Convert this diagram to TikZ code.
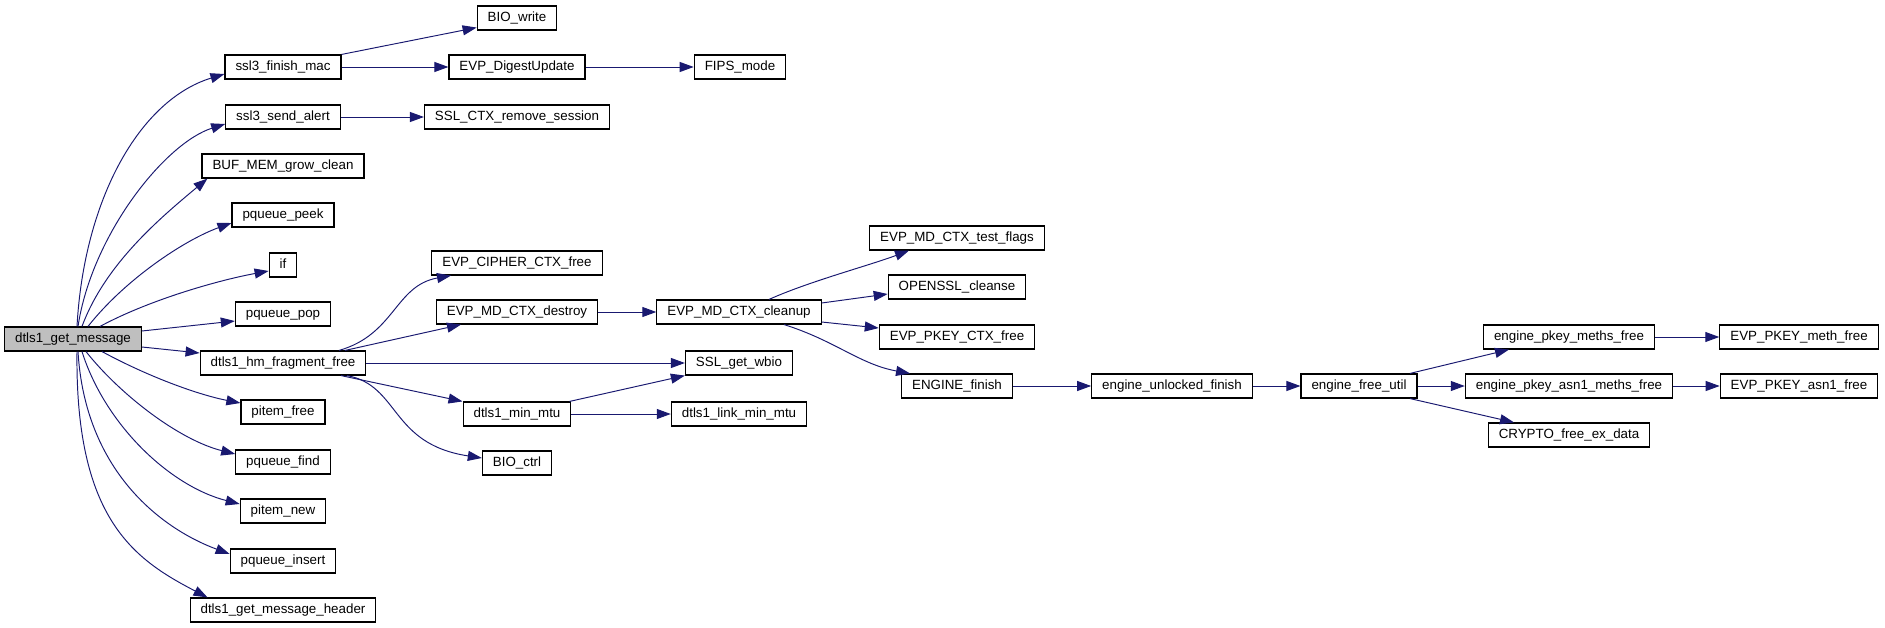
\documentclass[tikz,border=0pt]{standalone}
\usepackage{fontspec}
\setmainfont{Liberation Sans}
\usetikzlibrary{arrows.meta,calc}
\definecolor{CallBlue}{HTML}{191970}
\definecolor{RootGray}{HTML}{BFBFBF}
\tikzset{
  fnbox/.style={draw=black, fill=white, line width=0.65pt, inner xsep=0.21cm, inner ysep=0pt,
                minimum height=0.48cm, text height=0.2cm, text depth=0.07cm,
                font=\fontsize{7.6pt}{9pt}\selectfont},
  rootbox/.style={fnbox, fill=RootGray},
  call/.style={-{Triangle[length=0.28cm,width=0.2cm]}, line width=0.55pt, CallBlue},
}
\begin{document}
\begin{tikzpicture}[x=0.02cm, y=-0.02cm]
  \useasboundingbox (0,0) rectangle (1885,628);

  % caller
  \node[rootbox] (root) at (73,339) {dtls1\_get\_message};

  % first level
  \node[fnbox] (fmac)    at (283,67)  {ssl3\_finish\_mac};
  \node[fnbox] (salert)  at (283,117) {ssl3\_send\_alert};
  \node[fnbox] (bufgrow) at (283,166) {BUF\_MEM\_grow\_clean};
  \node[fnbox] (ppeek)   at (283,215) {pqueue\_peek};
  \node[fnbox] (ifn)     at (283,265) {if};
  \node[fnbox] (ppop)    at (283,314) {pqueue\_pop};
  \node[fnbox] (hmfree)  at (283,363) {dtls1\_hm\_fragment\_free};
  \node[fnbox] (ifree)   at (283,412) {pitem\_free};
  \node[fnbox] (pfind)   at (283,462) {pqueue\_find};
  \node[fnbox] (inew)    at (283,511) {pitem\_new};
  \node[fnbox] (pins)    at (283,561) {pqueue\_insert};
  \node[fnbox] (mhdr)    at (283,610) {dtls1\_get\_message\_header};

  % second level
  \node[fnbox] (biow)      at (517,18)  {BIO\_write};
  \node[fnbox] (dupd)      at (517,67)  {EVP\_DigestUpdate};
  \node[fnbox] (rmsess)    at (517,117) {SSL\_CTX\_remove\_session};
  \node[fnbox] (ciphfree)  at (517,263) {EVP\_CIPHER\_CTX\_free};
  \node[fnbox] (mddestroy) at (517,312) {EVP\_MD\_CTX\_destroy};
  \node[fnbox] (minmtu)    at (517,414) {dtls1\_min\_mtu};
  \node[fnbox] (bioctrl)   at (517,463) {BIO\_ctrl};

  % third level
  \node[fnbox] (fips)    at (740,67)  {FIPS\_mode};
  \node[fnbox] (mdclean) at (739,312) {EVP\_MD\_CTX\_cleanup};
  \node[fnbox] (wbio)    at (739,363) {SSL\_get\_wbio};
  \node[fnbox] (linkmtu) at (739,414) {dtls1\_link\_min\_mtu};

  % cleanup callees
  \node[fnbox] (tflags) at (957,238) {EVP\_MD\_CTX\_test\_flags};
  \node[fnbox] (cleanse) at (957,287) {OPENSSL\_cleanse};
  \node[fnbox] (pkctx)  at (957,337) {EVP\_PKEY\_CTX\_free};
  \node[fnbox] (engfin) at (957,386) {ENGINE\_finish};

  % engine chain
  \node[fnbox] (unlfin)   at (1172,386) {engine\_unlocked\_finish};
  \node[fnbox] (freeutil) at (1359,386) {engine\_free\_util};
  \node[fnbox] (pmeths)   at (1569,337) {engine\_pkey\_meths\_free};
  \node[fnbox] (a1meths)  at (1569,386) {engine\_pkey\_asn1\_meths\_free};
  \node[fnbox] (exdata)   at (1569,435) {CRYPTO\_free\_ex\_data};
  \node[fnbox] (methfree) at (1799,337) {EVP\_PKEY\_meth\_free};
  \node[fnbox] (a1free)   at (1799,386) {EVP\_PKEY\_asn1\_free};

  % calls from the root, upper fan
  \draw[call] ($(root.north)+(4,0)$) .. controls +(7,-127) and +(-85,26) .. ($(fmac.west)+(0,7)$);
  \draw[call] ($(root.north)+(5,0)$) .. controls +(14,-92) and +(-60,19) .. ($(salert.west)+(0,7)$);
  \draw[call] ($(root.north)+(9,0)$) .. controls +(23,-62) and +(-48,40) .. ($(bufgrow.south west)+(6,0)$);
  \draw[call] ($(root.north)+(15,0)$) .. controls +(37,-47) and +(-47,17) .. ($(ppeek.west)+(0,8)$);
  \draw[call] ($(root.north)+(27,0)$) .. controls +(50,-27) and +(-49,9) .. ($(ifn.west)+(0,6)$);
  \draw[call] ($(root.east)+(0,-8)$) -- ($(ppop.west)+(0,7)$);
  \draw[call] ($(root.east)+(0,8)$) -- ($(hmfree.west)+(0,-10)$);

  % calls from the root, lower fan
  \draw[call] ($(root.south)+(29,0)$) .. controls +(48,26) and +(-41,-8) .. ($(ifree.west)+(0,-9)$);
  \draw[call] ($(root.south)+(13,0)$) .. controls +(34,43) and +(-56,-14) .. ($(pfind.west)+(0,-8)$);
  \draw[call] ($(root.south)+(9,0)$) .. controls +(23,73) and +(-70,-18) .. ($(inew.west)+(0,-7)$);
  \draw[call] ($(root.south)+(5,0)$) .. controls +(7,118) and +(-70,-26) .. ($(pins.west)+(0,-7)$);
  \draw[call] ($(root.south)+(4,0)$) .. controls +(-2,168) and +(-73,-38) .. ($(mhdr.north west)+(18,0)$);

  % ssl3 helpers
  \draw[call] (fmac.north east) -- ($(biow.south west)+(0,-3)$);
  \draw[call] (fmac) -- (dupd);
  \draw[call] (dupd) -- (fips);
  \draw[call] (salert) -- (rmsess);

  % fragment free
  \draw[call] ($(hmfree.north)+(56,0)$) .. controls +(56,-16) and +(-56,10) .. ($(ciphfree.south)+(-66,0)$);
  \draw[call] ($(hmfree.north)+(62,0)$) -- ($(mddestroy.south)+(-56,0)$);
  \draw[call] (hmfree) -- (wbio);
  \draw[call] ($(hmfree.south)+(58,0)$) -- (minmtu.north west);
  \draw[call] ($(hmfree.south)+(64,0)$) .. controls +(53,10) and +(-92,-14) .. ($(bioctrl.west)+(0,-5)$);
  \draw[call] ($(minmtu.north east)+(-2,0)$) -- (wbio.south west);
  \draw[call] (minmtu) -- (linkmtu);

  % digest cleanup
  \draw[call] (mddestroy) -- (mdclean);
  \draw[call] ($(mdclean.north)+(30,0)$) .. controls +(40,-18) and +(-40,15) .. ($(tflags.south)+(-48,0)$);
  \draw[call] ($(mdclean.east)+(0,-9)$) -- ($(cleanse.west)+(0,7)$);
  \draw[call] ($(mdclean.east)+(0,10)$) -- ($(pkctx.west)+(0,-9)$);
  \draw[call] ($(mdclean.south)+(45,0)$) .. controls +(51,16) and +(-50,-9) .. ($(engfin.north west)+(9,0)$);

  % engine teardown
  \draw[call] (engfin) -- (unlfin);
  \draw[call] (unlfin) -- (freeutil);
  \draw[call] ($(freeutil.north)+(51,0)$) -- ($(pmeths.south)+(-60,0)$);
  \draw[call] (freeutil) -- (a1meths);
  \draw[call] ($(freeutil.south)+(51,0)$) -- ($(exdata.north)+(-55,0)$);
  \draw[call] (pmeths) -- (methfree);
  \draw[call] (a1meths) -- (a1free);
\end{tikzpicture}
\end{document}
